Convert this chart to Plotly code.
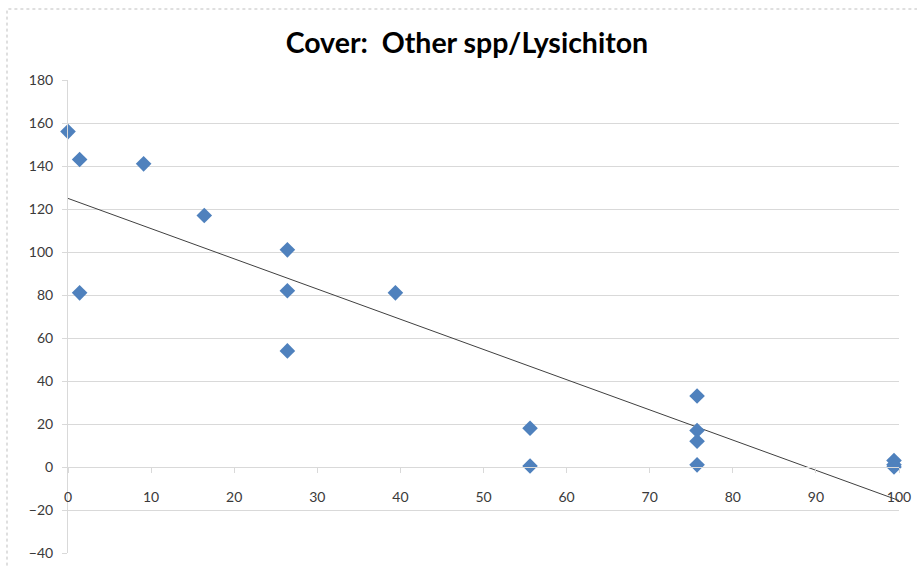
import numpy as np
import plotly.graph_objects as go

# Data
cover_lysichiton = [0, 1.4, 9.1, 16.4, 26.4, 26.4, 26.4, 1.4, 39.4,
                    55.6, 55.6, 75.7, 75.7, 75.7, 75.7, 99.4, 99.4, 99.4]
cover_other = [156, 143, 141, 117, 101, 82, 54, 81, 81,
               18, 0.5, 33, 17, 12, 1, 3, 1, 0]
x_ticks = [0, 10, 20, 30, 40, 50, 60, 70, 80, 90, 100]
y_ticks = [-40, -20, 0, 20, 40, 60, 80, 100, 120, 140, 160, 180]

slope, intercept = np.polyfit(cover_lysichiton, cover_other, 1)
trend_x = [0, 100]
trend_y = [intercept + slope * v for v in trend_x]

fig = go.Figure()
fig.add_trace(go.Scatter(
    x=trend_x, y=trend_y, mode="lines",
    line=dict(color="#404040", width=1), hoverinfo="skip", showlegend=False))
fig.add_trace(go.Scatter(
    x=cover_lysichiton, y=cover_other, mode="markers",
    marker=dict(symbol="diamond", size=12, color="#4F81BD",
                line=dict(width=0)),
    showlegend=False, cliponaxis=False))

ymin, ymax = -40, 180
W, H = 917, 567
L, T = 68, 80
PW, PH = 831, 473
fig.update_layout(
    template="none",
    width=W, height=H,
    margin=dict(l=L, r=W - L - PW, t=T, b=H - T - PH, pad=0),
    paper_bgcolor="white", plot_bgcolor="white",
    font=dict(family="Lato, Open Sans, sans-serif", size=14, color="#3a3a3a"),
    title=dict(text="<b>Cover:  Other spp/Lysichiton</b>", xref="paper",
               x=0.48, xanchor="center",
               y=1 - 43 / H, yanchor="middle",
               font=dict(family="Lato, Open Sans, sans-serif", size=28.5, color="#000000")),
    xaxis=dict(range=[0, 100], tickvals=x_ticks, showgrid=False, zeroline=False,
               showline=True, linecolor="#d9d9d9", linewidth=1,
               ticks="outside", ticklen=5, tickcolor="#d9d9d9",
               ticklabelstandoff=12, automargin=False,
               anchor="free", position=(0 - ymin) / (ymax - ymin),
               tickfont=dict(size=14, color="#3a3a3a")),
    yaxis=dict(range=[ymin, ymax], tickvals=y_ticks, showgrid=True,
               gridcolor="#d9d9d9", gridwidth=1, zeroline=False,
               showline=True, linecolor="#d9d9d9", linewidth=1,
               ticks="outside", ticklen=5, tickcolor="#d9d9d9",
               ticklabelstandoff=6, automargin=False,
               tickfont=dict(size=14, color="#3a3a3a")),
    shapes=[dict(type="rect", xref="paper", yref="paper",
                 x0=-(L - 7) / PW, x1=1.05, y0=-0.1, y1=(PH + T - 9) / PH,
                 line=dict(color="#bfbfbf", width=1, dash="dot"),
                 fillcolor="rgba(0,0,0,0)", layer="below")],
)
fig.write_html("out.html",
               config={"displayModeBar": False},
               post_script="document.body.style.margin='0';"
                           "document.body.style.overflow='hidden';")
